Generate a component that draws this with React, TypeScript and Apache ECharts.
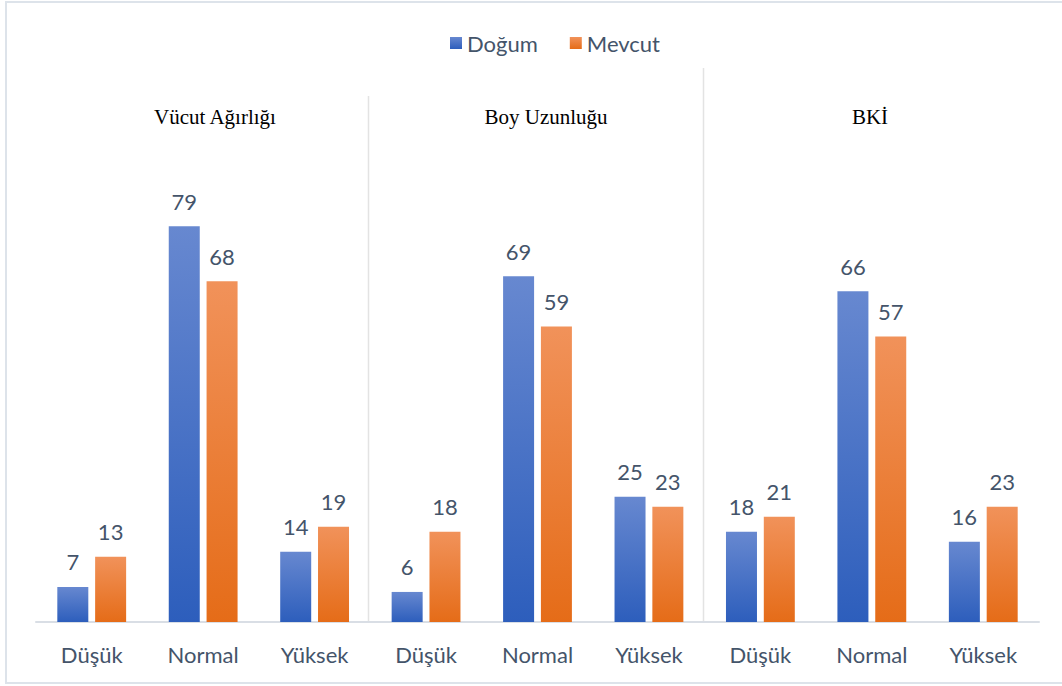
import React, { useEffect, useRef } from "react";
import * as echarts from "echarts";

const groups = ["Vücut Ağırlığı", "Boy Uzunluğu", "BKİ"];
const levels = ["Düşük", "Normal", "Yüksek"];
const seriesNames = ["Doğum", "Mevcut"];
const dogum = [7, 79, 14, 6, 69, 25, 18, 66, 16];
const mevcut = [13, 68, 19, 18, 59, 23, 21, 57, 23];

const LABEL_COLOR = "#44546A";
const FONT = "Lato, 'Noto Sans', sans-serif";

export default function App() {
  const ref = useRef<HTMLDivElement>(null);
  useEffect(() => {
    if (!ref.current) return;
    const chart = echarts.init(ref.current, undefined, { renderer: "svg" });
    const categories: string[] = [];
    groups.forEach(() => levels.forEach((l) => categories.push(l)));

    const grad = (top: string, bottom: string) =>
      new echarts.graphic.LinearGradient(0, 0, 0, 1, [
        { offset: 0, color: top },
        { offset: 1, color: bottom },
      ]);

    const labelOpt = {
      show: true,
      position: "top",
      distance: 14,
      color: LABEL_COLOR,
      fontSize: 22,
      fontFamily: FONT,
    };

    chart.setOption({
      animation: false,
      backgroundColor: "#ffffff",
      legend: {
        top: 27,
        left: 445,
        itemWidth: 12,
        itemHeight: 12,
        itemGap: 32,
        icon: "rect",
        textStyle: { color: LABEL_COLOR, fontSize: 22, fontFamily: FONT },
        data: seriesNames,
      },
      grid: { left: 36, right: 23, top: 121, bottom: 64 },
      xAxis: {
        type: "category",
        data: categories,
        axisLine: { lineStyle: { color: "#D9DEE5", width: 2 } },
        axisTick: { show: false },
        axisLabel: { color: LABEL_COLOR, fontSize: 22, fontFamily: FONT, margin: 21, interval: 0 },
      },
      yAxis: { type: "value", min: 0, max: 100, show: false },
      series: [
        {
          name: seriesNames[0],
          type: "bar",
          data: dogum,
          barWidth: 31,
          barGap: "22%",
          itemStyle: { color: grad("#6788D0", "#2D5EBC") },
          label: labelOpt,
        },
        {
          name: seriesNames[1],
          type: "bar",
          data: mevcut,
          barWidth: 31,
          itemStyle: { color: grad("#F1925A", "#E56C18") },
          label: labelOpt,
        },
      ],
    });

    const yBase = chart.convertToPixel({ yAxisIndex: 0 }, 0) as number;
    const tops = [96, 68];
    const lines: any[] = [];
    [3, 6].forEach((idx, i) => {
      const a = chart.convertToPixel({ xAxisIndex: 0 }, idx - 1) as number;
      const b = chart.convertToPixel({ xAxisIndex: 0 }, idx) as number;
      const x = Math.round((a + b) / 2) - 1.5;
      lines.push({
        type: "line",
        shape: { x1: x, y1: tops[i], x2: x, y2: yBase },
        style: { stroke: "#E3E3E3", lineWidth: 1.5 },
        silent: true,
      });
    });
    const titleX = [215, 546, 870];
    const titles = groups.map((g, i) => ({
      type: "text",
      x: titleX[i],
      y: 117,
      style: {
        text: g,
        fill: "#000000",
        font: "21px 'Liberation Serif', 'Times New Roman', serif",
        textAlign: "center",
        textVerticalAlign: "middle",
      },
      silent: true,
    }));
    chart.setOption({
      graphic: [
        {
          type: "rect",
          shape: { x: 6, y: 2, width: 1080, height: 681 },
          style: { fill: "none", stroke: "#DDE3EA", lineWidth: 2 },
          silent: true,
          z: -1,
        },
        ...lines,
        ...titles,
      ],
    });

    return () => chart.dispose();
  }, []);
  return (
    <div
      ref={ref}
      style={{ position: "fixed", left: 0, top: 0, width: 1062, height: 686 }}
    />
  );
}
